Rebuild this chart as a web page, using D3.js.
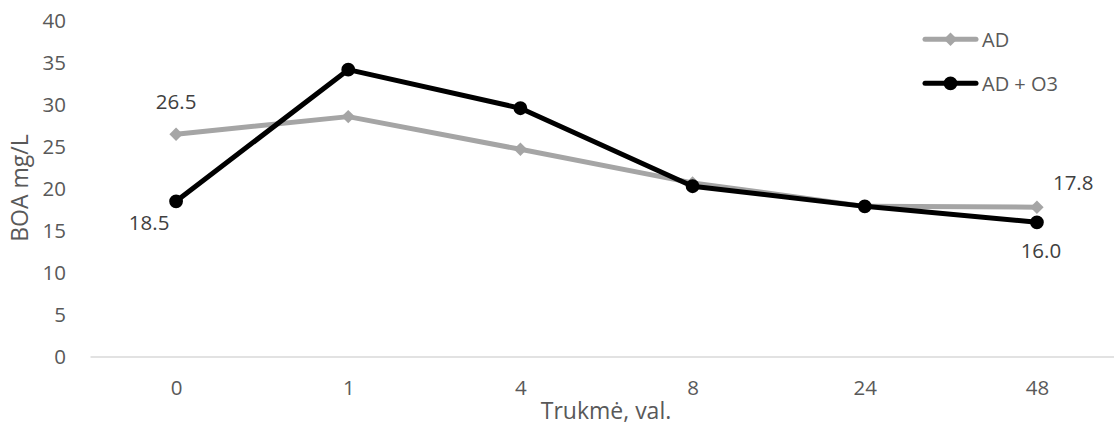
<!DOCTYPE html>
<html>
<head>
<meta charset="utf-8">
<script src="https://cdn.jsdelivr.net/npm/d3@7"></script>
<style>
  body { margin: 0; background: #fff; }
  svg { font-family: "Open Sans", "Liberation Sans", sans-serif; }
</style>
</head>
<body>
<svg id="chart" width="1114" height="425"></svg>
<script>
// Data
const categories = ['0', '1', '4', '8', '24', '48'];
const adValues = [26.5, 28.6, 24.7, 20.7, 17.9, 17.8];
const adO3Values = [18.5, 34.2, 29.6, 20.3, 17.9, 16.0];
const yTicks = [0, 5, 10, 15, 20, 25, 30, 35, 40];

const series = [
    { name: 'AD', values: adValues, color: '#a5a5a5', marker: 'diamond' },
    { name: 'AD + O3', values: adO3Values, color: '#000000', marker: 'circle' }
];

const svg = d3.select('#chart');
const margin = { top: 21, right: -9, bottom: 68.5, left: 90 };
const width = 1114 - margin.left - margin.right;
const height = 425 - margin.top - margin.bottom;

const g = svg.append('g')
    .attr('transform', `translate(${margin.left},${margin.top})`);

const x = d3.scalePoint()
    .domain(categories)
    .range([0, width])
    .padding(0.5);

const y = d3.scaleLinear()
    .domain([0, 40])
    .range([height, 0]);

function markerPath(s) {
    return d3.symbol()
        .type(s.marker === 'diamond' ? d3.symbolDiamond2 : d3.symbolCircle)
        .size(s.marker === 'diamond' ? 115 : 150)();
}

// Y axis labels (no axis line)
const yAxis = g.append('g')
    .call(d3.axisLeft(y).tickValues(yTicks).tickSize(0).tickPadding(24));
yAxis.select('.domain').remove();
yAxis.selectAll('text')
    .style('font-size', '20.5px')
    .style('fill', '#595959')
    .style('font-family', '"Open Sans", sans-serif');

// X axis
const xAxis = g.append('g')
    .attr('transform', `translate(0,${height})`)
    .call(d3.axisBottom(x).tickSize(0).tickPadding(24));
xAxis.select('.domain')
    .attr('stroke', '#d9d9d9')
    .attr('stroke-width', 1.3);
xAxis.selectAll('text')
    .style('font-size', '20.5px')
    .style('fill', '#595959')
    .style('font-family', '"Open Sans", sans-serif');

// Lines
const line = d3.line()
    .x((d, i) => x(categories[i]))
    .y(d => y(d));

series.forEach(s => {
    g.append('path')
        .datum(s.values)
        .attr('fill', 'none')
        .attr('stroke', s.color)
        .attr('stroke-width', 5)
        .attr('stroke-linejoin', 'round')
        .attr('stroke-linecap', 'round')
        .attr('d', line);

    g.selectAll(null)
        .data(s.values)
        .enter()
        .append('path')
        .attr('transform', (d, i) => `translate(${x(categories[i])},${y(d)})`)
        .attr('d', markerPath(s))
        .attr('fill', s.color);
});

// Data labels on first and last points
const labels = [
    { i: 0, v: adValues[0], dx: 0, dy: -25, anchor: 'middle' },
    { i: 5, v: adValues[5], dx: 16, dy: -17, anchor: 'start' },
    { i: 0, v: adO3Values[0], dx: -27, dy: 29, anchor: 'middle' },
    { i: 5, v: adO3Values[5], dx: 4, dy: 36, anchor: 'middle' }
];
g.selectAll('.data-label')
    .data(labels)
    .enter()
    .append('text')
    .attr('class', 'data-label')
    .attr('x', d => x(categories[d.i]) + d.dx)
    .attr('y', d => y(d.v) + d.dy)
    .attr('text-anchor', d => d.anchor)
    .style('font-size', '20.5px')
    .style('fill', '#404040')
    .text(d => d.v.toFixed(1));

// Axis titles
svg.append('text')
    .attr('x', 606)
    .attr('y', 419)
    .attr('text-anchor', 'middle')
    .style('font-size', '23px')
    .style('fill', '#595959')
    .text('Trukmė, val.');

svg.append('text')
    .attr('transform', 'translate(28,188) rotate(-90)')
    .attr('text-anchor', 'middle')
    .style('font-size', '23px')
    .style('fill', '#595959')
    .text('BOA mg/L');

// Legend
const legend = svg.append('g');
series.forEach((s, k) => {
    const ly = 39.3 + k * 44;
    legend.append('line')
        .attr('x1', 925).attr('x2', 976)
        .attr('y1', ly).attr('y2', ly)
        .attr('stroke', s.color)
        .attr('stroke-width', 5)
        .attr('stroke-linecap', 'round');
    legend.append('path')
        .attr('transform', `translate(950.5,${ly})`)
        .attr('d', markerPath(s))
        .attr('fill', s.color);
    legend.append('text')
        .attr('x', 982)
        .attr('y', ly + 7.5)
        .style('font-size', '20px')
        .style('fill', '#595959')
        .text(s.name);
});
</script>
</body>
</html>
